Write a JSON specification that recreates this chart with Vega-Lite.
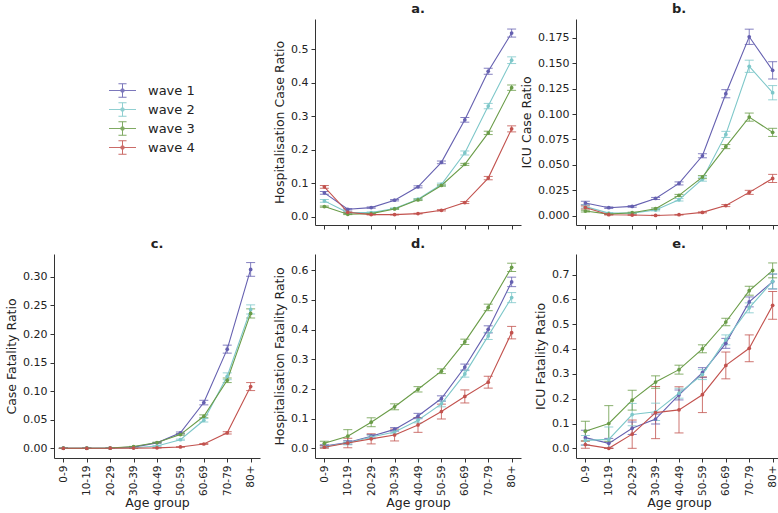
{
"$schema":"https://vega.github.io/schema/vega-lite/v6.json",
"background":"white",
"padding":{"left":5,"top":3,"right":0,"bottom":0},
"bounds":"flush",
"columns":3,
"spacing":{"row":29,"column":55},
"datasets":{
"a":[
{"g":"0-9","w":"wave 1","v":0.072,"lo":0.068,"hi":0.076},{"g":"10-19","w":"wave 1","v":0.023,"lo":0.021,"hi":0.025},{"g":"20-29","w":"wave 1","v":0.028,"lo":0.026,"hi":0.030},{"g":"30-39","w":"wave 1","v":0.050,"lo":0.048,"hi":0.052},{"g":"40-49","w":"wave 1","v":0.090,"lo":0.087,"hi":0.093},{"g":"50-59","w":"wave 1","v":0.163,"lo":0.159,"hi":0.167},{"g":"60-69","w":"wave 1","v":0.290,"lo":0.283,"hi":0.297},{"g":"70-79","w":"wave 1","v":0.435,"lo":0.426,"hi":0.444},{"g":"80+","w":"wave 1","v":0.549,"lo":0.537,"hi":0.561},
{"g":"0-9","w":"wave 2","v":0.048,"lo":0.044,"hi":0.052},{"g":"10-19","w":"wave 2","v":0.013,"lo":0.011,"hi":0.015},{"g":"20-29","w":"wave 2","v":0.013,"lo":0.011,"hi":0.015},{"g":"30-39","w":"wave 2","v":0.025,"lo":0.023,"hi":0.027},{"g":"40-49","w":"wave 2","v":0.053,"lo":0.051,"hi":0.055},{"g":"50-59","w":"wave 2","v":0.097,"lo":0.093,"hi":0.101},{"g":"60-69","w":"wave 2","v":0.191,"lo":0.185,"hi":0.197},{"g":"70-79","w":"wave 2","v":0.331,"lo":0.323,"hi":0.339},{"g":"80+","w":"wave 2","v":0.468,"lo":0.458,"hi":0.478},
{"g":"0-9","w":"wave 3","v":0.031,"lo":0.029,"hi":0.033},{"g":"10-19","w":"wave 3","v":0.008,"lo":0.007,"hi":0.009},{"g":"20-29","w":"wave 3","v":0.010,"lo":0.009,"hi":0.011},{"g":"30-39","w":"wave 3","v":0.024,"lo":0.023,"hi":0.025},{"g":"40-49","w":"wave 3","v":0.051,"lo":0.049,"hi":0.053},{"g":"50-59","w":"wave 3","v":0.094,"lo":0.092,"hi":0.096},{"g":"60-69","w":"wave 3","v":0.157,"lo":0.154,"hi":0.160},{"g":"70-79","w":"wave 3","v":0.251,"lo":0.246,"hi":0.256},{"g":"80+","w":"wave 3","v":0.386,"lo":0.378,"hi":0.394},
{"g":"0-9","w":"wave 4","v":0.090,"lo":0.086,"hi":0.094},{"g":"10-19","w":"wave 4","v":0.014,"lo":0.013,"hi":0.015},{"g":"20-29","w":"wave 4","v":0.007,"lo":0.006,"hi":0.008},{"g":"30-39","w":"wave 4","v":0.007,"lo":0.006,"hi":0.008},{"g":"40-49","w":"wave 4","v":0.010,"lo":0.009,"hi":0.011},{"g":"50-59","w":"wave 4","v":0.020,"lo":0.018,"hi":0.022},{"g":"60-69","w":"wave 4","v":0.043,"lo":0.040,"hi":0.046},{"g":"70-79","w":"wave 4","v":0.116,"lo":0.111,"hi":0.121},{"g":"80+","w":"wave 4","v":0.263,"lo":0.254,"hi":0.272}
],
"b":[
{"g":"0-9","w":"wave 1","v":0.0125,"lo":0.0107,"hi":0.0143},{"g":"10-19","w":"wave 1","v":0.0079,"lo":0.0071,"hi":0.0087},{"g":"20-29","w":"wave 1","v":0.0092,"lo":0.0084,"hi":0.0100},{"g":"30-39","w":"wave 1","v":0.0170,"lo":0.0160,"hi":0.0180},{"g":"40-49","w":"wave 1","v":0.0318,"lo":0.0303,"hi":0.0333},{"g":"50-59","w":"wave 1","v":0.0590,"lo":0.0570,"hi":0.0610},{"g":"60-69","w":"wave 1","v":0.1200,"lo":0.1160,"hi":0.1240},{"g":"70-79","w":"wave 1","v":0.1760,"lo":0.1685,"hi":0.1835},{"g":"80+","w":"wave 1","v":0.1430,"lo":0.1345,"hi":0.1515},
{"g":"0-9","w":"wave 2","v":0.0090,"lo":0.0075,"hi":0.0105},{"g":"10-19","w":"wave 2","v":0.0026,"lo":0.0021,"hi":0.0031},{"g":"20-29","w":"wave 2","v":0.0026,"lo":0.0021,"hi":0.0031},{"g":"30-39","w":"wave 2","v":0.0056,"lo":0.0048,"hi":0.0064},{"g":"40-49","w":"wave 2","v":0.0157,"lo":0.0145,"hi":0.0169},{"g":"50-59","w":"wave 2","v":0.0360,"lo":0.0340,"hi":0.0380},{"g":"60-69","w":"wave 2","v":0.0800,"lo":0.0770,"hi":0.0830},{"g":"70-79","w":"wave 2","v":0.1470,"lo":0.1410,"hi":0.1530},{"g":"80+","w":"wave 2","v":0.1210,"lo":0.1140,"hi":0.1280},
{"g":"0-9","w":"wave 3","v":0.0046,"lo":0.0038,"hi":0.0054},{"g":"10-19","w":"wave 3","v":0.0016,"lo":0.0012,"hi":0.0020},{"g":"20-29","w":"wave 3","v":0.0030,"lo":0.0025,"hi":0.0035},{"g":"30-39","w":"wave 3","v":0.0069,"lo":0.0061,"hi":0.0077},{"g":"40-49","w":"wave 3","v":0.0200,"lo":0.0190,"hi":0.0210},{"g":"50-59","w":"wave 3","v":0.0380,"lo":0.0365,"hi":0.0395},{"g":"60-69","w":"wave 3","v":0.0680,"lo":0.0660,"hi":0.0700},{"g":"70-79","w":"wave 3","v":0.0970,"lo":0.0930,"hi":0.1010},{"g":"80+","w":"wave 3","v":0.0820,"lo":0.0780,"hi":0.0860},
{"g":"0-9","w":"wave 4","v":0.0082,"lo":0.0067,"hi":0.0097},{"g":"10-19","w":"wave 4","v":0.0010,"lo":0.0007,"hi":0.0013},{"g":"20-29","w":"wave 4","v":0.0007,"lo":0.0005,"hi":0.0009},{"g":"30-39","w":"wave 4","v":0.0003,"lo":0.0001,"hi":0.0005},{"g":"40-49","w":"wave 4","v":0.0010,"lo":0.0007,"hi":0.0013},{"g":"50-59","w":"wave 4","v":0.0033,"lo":0.0028,"hi":0.0038},{"g":"60-69","w":"wave 4","v":0.0100,"lo":0.0090,"hi":0.0110},{"g":"70-79","w":"wave 4","v":0.0230,"lo":0.0210,"hi":0.0250},{"g":"80+","w":"wave 4","v":0.0367,"lo":0.0327,"hi":0.0407}
],
"c":[
{"g":"0-9","w":"wave 1","v":0.0001,"lo":0.0000,"hi":0.0002},{"g":"10-19","w":"wave 1","v":0.0001,"lo":0.0000,"hi":0.0002},{"g":"20-29","w":"wave 1","v":0.0005,"lo":0.0003,"hi":0.0007},{"g":"30-39","w":"wave 1","v":0.0020,"lo":0.0017,"hi":0.0023},{"g":"40-49","w":"wave 1","v":0.0095,"lo":0.0087,"hi":0.0103},{"g":"50-59","w":"wave 1","v":0.0270,"lo":0.0255,"hi":0.0285},{"g":"60-69","w":"wave 1","v":0.0800,"lo":0.0760,"hi":0.0840},{"g":"70-79","w":"wave 1","v":0.1735,"lo":0.1665,"hi":0.1805},{"g":"80+","w":"wave 1","v":0.3130,"lo":0.3010,"hi":0.3250},
{"g":"0-9","w":"wave 2","v":0.0001,"lo":0.0000,"hi":0.0002},{"g":"10-19","w":"wave 2","v":0.0001,"lo":0.0000,"hi":0.0002},{"g":"20-29","w":"wave 2","v":0.0003,"lo":0.0002,"hi":0.0004},{"g":"30-39","w":"wave 2","v":0.0010,"lo":0.0008,"hi":0.0012},{"g":"40-49","w":"wave 2","v":0.0040,"lo":0.0035,"hi":0.0045},{"g":"50-59","w":"wave 2","v":0.0150,"lo":0.0140,"hi":0.0160},{"g":"60-69","w":"wave 2","v":0.0490,"lo":0.0460,"hi":0.0520},{"g":"70-79","w":"wave 2","v":0.1260,"lo":0.1200,"hi":0.1320},{"g":"80+","w":"wave 2","v":0.2430,"lo":0.2350,"hi":0.2510},
{"g":"0-9","w":"wave 3","v":0.0001,"lo":0.0000,"hi":0.0002},{"g":"10-19","w":"wave 3","v":0.0001,"lo":0.0000,"hi":0.0002},{"g":"20-29","w":"wave 3","v":0.0005,"lo":0.0003,"hi":0.0007},{"g":"30-39","w":"wave 3","v":0.0030,"lo":0.0027,"hi":0.0033},{"g":"40-49","w":"wave 3","v":0.0100,"lo":0.0094,"hi":0.0106},{"g":"50-59","w":"wave 3","v":0.0240,"lo":0.0228,"hi":0.0252},{"g":"60-69","w":"wave 3","v":0.0560,"lo":0.0535,"hi":0.0585},{"g":"70-79","w":"wave 3","v":0.1190,"lo":0.1150,"hi":0.1230},{"g":"80+","w":"wave 3","v":0.2360,"lo":0.2280,"hi":0.2440},
{"g":"0-9","w":"wave 4","v":0.0000,"lo":0.0000,"hi":0.0001},{"g":"10-19","w":"wave 4","v":0.0000,"lo":0.0000,"hi":0.0001},{"g":"20-29","w":"wave 4","v":0.0001,"lo":0.0000,"hi":0.0002},{"g":"30-39","w":"wave 4","v":0.0003,"lo":0.0002,"hi":0.0004},{"g":"40-49","w":"wave 4","v":0.0008,"lo":0.0006,"hi":0.0010},{"g":"50-59","w":"wave 4","v":0.0023,"lo":0.0019,"hi":0.0027},{"g":"60-69","w":"wave 4","v":0.0075,"lo":0.0067,"hi":0.0083},{"g":"70-79","w":"wave 4","v":0.0270,"lo":0.0250,"hi":0.0290},{"g":"80+","w":"wave 4","v":0.1080,"lo":0.1010,"hi":0.1150}
],
"d":[
{"g":"0-9","w":"wave 1","v":0.008,"lo":0.004,"hi":0.012},{"g":"10-19","w":"wave 1","v":0.020,"lo":0.014,"hi":0.026},{"g":"20-29","w":"wave 1","v":0.041,"lo":0.035,"hi":0.047},{"g":"30-39","w":"wave 1","v":0.064,"lo":0.058,"hi":0.070},{"g":"40-49","w":"wave 1","v":0.109,"lo":0.100,"hi":0.118},{"g":"50-59","w":"wave 1","v":0.168,"lo":0.159,"hi":0.177},{"g":"60-69","w":"wave 1","v":0.274,"lo":0.264,"hi":0.284},{"g":"70-79","w":"wave 1","v":0.401,"lo":0.389,"hi":0.413},{"g":"80+","w":"wave 1","v":0.561,"lo":0.545,"hi":0.577},
{"g":"0-9","w":"wave 2","v":0.006,"lo":0.002,"hi":0.010},{"g":"10-19","w":"wave 2","v":0.018,"lo":0.012,"hi":0.024},{"g":"20-29","w":"wave 2","v":0.038,"lo":0.032,"hi":0.044},{"g":"30-39","w":"wave 2","v":0.055,"lo":0.049,"hi":0.061},{"g":"40-49","w":"wave 2","v":0.095,"lo":0.086,"hi":0.104},{"g":"50-59","w":"wave 2","v":0.150,"lo":0.140,"hi":0.160},{"g":"60-69","w":"wave 2","v":0.251,"lo":0.240,"hi":0.262},{"g":"70-79","w":"wave 2","v":0.379,"lo":0.367,"hi":0.391},{"g":"80+","w":"wave 2","v":0.508,"lo":0.491,"hi":0.525},
{"g":"0-9","w":"wave 3","v":0.017,"lo":0.010,"hi":0.024},{"g":"10-19","w":"wave 3","v":0.041,"lo":0.019,"hi":0.063},{"g":"20-29","w":"wave 3","v":0.088,"lo":0.073,"hi":0.103},{"g":"30-39","w":"wave 3","v":0.140,"lo":0.130,"hi":0.150},{"g":"40-49","w":"wave 3","v":0.199,"lo":0.190,"hi":0.208},{"g":"50-59","w":"wave 3","v":0.260,"lo":0.252,"hi":0.268},{"g":"60-69","w":"wave 3","v":0.359,"lo":0.350,"hi":0.368},{"g":"70-79","w":"wave 3","v":0.475,"lo":0.464,"hi":0.486},{"g":"80+","w":"wave 3","v":0.610,"lo":0.596,"hi":0.624},
{"g":"0-9","w":"wave 4","v":0.004,"lo":0.000,"hi":0.009},{"g":"10-19","w":"wave 4","v":0.018,"lo":0.002,"hi":0.034},{"g":"20-29","w":"wave 4","v":0.032,"lo":0.015,"hi":0.049},{"g":"30-39","w":"wave 4","v":0.045,"lo":0.025,"hi":0.065},{"g":"40-49","w":"wave 4","v":0.079,"lo":0.054,"hi":0.104},{"g":"50-59","w":"wave 4","v":0.124,"lo":0.099,"hi":0.149},{"g":"60-69","w":"wave 4","v":0.175,"lo":0.153,"hi":0.197},{"g":"70-79","w":"wave 4","v":0.223,"lo":0.203,"hi":0.243},{"g":"80+","w":"wave 4","v":0.390,"lo":0.369,"hi":0.411}
],
"e":[
{"g":"0-9","w":"wave 1","v":0.043,"lo":0.013,"hi":0.073},{"g":"10-19","w":"wave 1","v":0.020,"lo":0.000,"hi":0.040},{"g":"20-29","w":"wave 1","v":0.081,"lo":0.056,"hi":0.106},{"g":"30-39","w":"wave 1","v":0.118,"lo":0.098,"hi":0.138},{"g":"40-49","w":"wave 1","v":0.215,"lo":0.195,"hi":0.235},{"g":"50-59","w":"wave 1","v":0.305,"lo":0.285,"hi":0.325},{"g":"60-69","w":"wave 1","v":0.423,"lo":0.403,"hi":0.443},{"g":"70-79","w":"wave 1","v":0.590,"lo":0.570,"hi":0.610},{"g":"80+","w":"wave 1","v":0.672,"lo":0.642,"hi":0.702},
{"g":"0-9","w":"wave 2","v":0.032,"lo":0.012,"hi":0.052},{"g":"10-19","w":"wave 2","v":0.036,"lo":0.000,"hi":0.086},{"g":"20-29","w":"wave 2","v":0.136,"lo":0.091,"hi":0.181},{"g":"30-39","w":"wave 2","v":0.147,"lo":0.112,"hi":0.182},{"g":"40-49","w":"wave 2","v":0.222,"lo":0.202,"hi":0.242},{"g":"50-59","w":"wave 2","v":0.297,"lo":0.277,"hi":0.317},{"g":"60-69","w":"wave 2","v":0.437,"lo":0.417,"hi":0.457},{"g":"70-79","w":"wave 2","v":0.566,"lo":0.546,"hi":0.586},{"g":"80+","w":"wave 2","v":0.673,"lo":0.643,"hi":0.703},
{"g":"0-9","w":"wave 3","v":0.069,"lo":0.029,"hi":0.109},{"g":"10-19","w":"wave 3","v":0.100,"lo":0.028,"hi":0.172},{"g":"20-29","w":"wave 3","v":0.194,"lo":0.154,"hi":0.234},{"g":"30-39","w":"wave 3","v":0.267,"lo":0.242,"hi":0.292},{"g":"40-49","w":"wave 3","v":0.317,"lo":0.299,"hi":0.335},{"g":"50-59","w":"wave 3","v":0.401,"lo":0.385,"hi":0.417},{"g":"60-69","w":"wave 3","v":0.509,"lo":0.494,"hi":0.524},{"g":"70-79","w":"wave 3","v":0.635,"lo":0.617,"hi":0.653},{"g":"80+","w":"wave 3","v":0.717,"lo":0.687,"hi":0.747},
{"g":"0-9","w":"wave 4","v":0.015,"lo":0.000,"hi":0.030},{"g":"10-19","w":"wave 4","v":0.000,"lo":0.000,"hi":0.000},{"g":"20-29","w":"wave 4","v":0.057,"lo":0.000,"hi":0.114},{"g":"30-39","w":"wave 4","v":0.144,"lo":0.039,"hi":0.249},{"g":"40-49","w":"wave 4","v":0.155,"lo":0.062,"hi":0.248},{"g":"50-59","w":"wave 4","v":0.216,"lo":0.144,"hi":0.288},{"g":"60-69","w":"wave 4","v":0.334,"lo":0.280,"hi":0.388},{"g":"70-79","w":"wave 4","v":0.403,"lo":0.349,"hi":0.457},{"g":"80+","w":"wave 4","v":0.576,"lo":0.520,"hi":0.632}
]
},
"concat":[
{"data":{"values":[{"k":1}]},"mark":{"type":"point","opacity":0},"width":206,"height":206},
{"data":{"name":"a"},"width":206,"height":206,"title":"a.",
 "encoding":{
  "x":{"field":"g","type":"ordinal","scale":{"type":"point","padding":0.4,"domain":["0-9","10-19","20-29","30-39","40-49","50-59","60-69","70-79","80+"]},"axis":{"labels":false,"title":null}},
  "color":{"field":"w","type":"nominal","scale":{"domain":["wave 1","wave 2","wave 3","wave 4"],"range":["#6560b0","#7dc7c9","#6a9c48","#c2524e"]},
   "legend":{"orient":"none","legendX":59,"legendY":62,"title":null,"symbolType":"M-1.5,0H1.5M0,-0.75V0.75M-0.45,-0.75H0.45M-0.45,0.75H0.45M-0.2,0A0.2,0.2 0 1,1 0.2,0A0.2,0.2 0 1,1 -0.2,0Z","symbolSize":324,"symbolStrokeWidth":1,"labelFontSize":13,"labelOffset":16,"rowPadding":0,"labelFont":"DejaVu Sans","labelColor":"#222",
    "encode":{"symbols":{"update":{"fill":{"scale":"color","field":"value"},"stroke":{"scale":"color","field":"value"},"opacity":{"value":0.85}}}}}}
 },
 "layer":[
  {"mark":{"type":"rule","strokeWidth":1,"opacity":0.8},"encoding":{"y":{"field":"lo","type":"quantitative","title":"Hospitalisation Case Ratio","scale":{"domain":[-0.024,0.591],"nice":false,"zero":false},"axis":{"values":[0,0.1,0.2,0.3,0.4,0.5],"format":".1f"}},"y2":{"field":"hi"}}},
  {"mark":{"type":"tick","orient":"horizontal","size":9,"thickness":1,"opacity":0.8},"encoding":{"y":{"field":"lo","type":"quantitative","title":"Hospitalisation Case Ratio","axis":{"values":[0,0.1,0.2,0.3,0.4,0.5],"format":".1f"}}}},
  {"mark":{"type":"tick","orient":"horizontal","size":9,"thickness":1,"opacity":0.8},"encoding":{"y":{"field":"hi","type":"quantitative","title":"Hospitalisation Case Ratio","axis":{"values":[0,0.1,0.2,0.3,0.4,0.5],"format":".1f"}}}},
  {"mark":{"type":"line","strokeWidth":1.1},"encoding":{"y":{"field":"v","type":"quantitative","title":"Hospitalisation Case Ratio","axis":{"values":[0,0.1,0.2,0.3,0.4,0.5],"format":".1f"}}}},
  {"mark":{"type":"point","filled":true,"size":14,"opacity":1},"encoding":{"y":{"field":"v","type":"quantitative","title":"Hospitalisation Case Ratio","axis":{"values":[0,0.1,0.2,0.3,0.4,0.5],"format":".1f"}}}}
 ]},
{"data":{"name":"b"},"width":206,"height":206,"title":"b.",
 "encoding":{
  "x":{"field":"g","type":"ordinal","scale":{"type":"point","padding":0.4,"domain":["0-9","10-19","20-29","30-39","40-49","50-59","60-69","70-79","80+"]},"axis":{"labels":false,"title":null}},
  "color":{"field":"w","type":"nominal","scale":{"domain":["wave 1","wave 2","wave 3","wave 4"],"range":["#6560b0","#7dc7c9","#6a9c48","#c2524e"]},"legend":null}
 },
 "layer":[
  {"mark":{"type":"rule","strokeWidth":1,"opacity":0.8},"encoding":{"y":{"field":"lo","type":"quantitative","title":"ICU Case Ratio","scale":{"domain":[-0.0091,0.1935],"nice":false,"zero":false},"axis":{"values":[0,0.025,0.05,0.075,0.1,0.125,0.15,0.175],"format":".3f","labelOverlap":false}},"y2":{"field":"hi"}}},
  {"mark":{"type":"tick","orient":"horizontal","size":9,"thickness":1,"opacity":0.8},"encoding":{"y":{"field":"lo","type":"quantitative","title":"ICU Case Ratio","axis":{"values":[0,0.025,0.05,0.075,0.1,0.125,0.15,0.175],"format":".3f","labelOverlap":false}}}},
  {"mark":{"type":"tick","orient":"horizontal","size":9,"thickness":1,"opacity":0.8},"encoding":{"y":{"field":"hi","type":"quantitative","title":"ICU Case Ratio","axis":{"values":[0,0.025,0.05,0.075,0.1,0.125,0.15,0.175],"format":".3f","labelOverlap":false}}}},
  {"mark":{"type":"line","strokeWidth":1.1},"encoding":{"y":{"field":"v","type":"quantitative","title":"ICU Case Ratio","axis":{"values":[0,0.025,0.05,0.075,0.1,0.125,0.15,0.175],"format":".3f","labelOverlap":false}}}},
  {"mark":{"type":"point","filled":true,"size":14,"opacity":1},"encoding":{"y":{"field":"v","type":"quantitative","title":"ICU Case Ratio","axis":{"values":[0,0.025,0.05,0.075,0.1,0.125,0.15,0.175],"format":".3f","labelOverlap":false}}}}
 ]},
{"data":{"name":"c"},"width":206,"height":204,"title":"c.",
 "encoding":{
  "x":{"field":"g","type":"ordinal","scale":{"type":"point","padding":0.4,"domain":["0-9","10-19","20-29","30-39","40-49","50-59","60-69","70-79","80+"]},"axis":{"labelAngle":-90,"title":"Age group","labelFontSize":10.5,"titlePadding":1}},
  "color":{"field":"w","type":"nominal","scale":{"domain":["wave 1","wave 2","wave 3","wave 4"],"range":["#6560b0","#7dc7c9","#6a9c48","#c2524e"]},"legend":null}
 },
 "layer":[
  {"mark":{"type":"rule","strokeWidth":1,"opacity":0.8},"encoding":{"y":{"field":"lo","type":"quantitative","title":"Case Fatality Ratio","scale":{"domain":[-0.017,0.340],"nice":false,"zero":false},"axis":{"values":[0,0.05,0.1,0.15,0.2,0.25,0.3],"format":".2f","labelOverlap":false}},"y2":{"field":"hi"}}},
  {"mark":{"type":"tick","orient":"horizontal","size":9,"thickness":1,"opacity":0.8},"encoding":{"y":{"field":"lo","type":"quantitative","title":"Case Fatality Ratio","axis":{"values":[0,0.05,0.1,0.15,0.2,0.25,0.3],"format":".2f","labelOverlap":false}}}},
  {"mark":{"type":"tick","orient":"horizontal","size":9,"thickness":1,"opacity":0.8},"encoding":{"y":{"field":"hi","type":"quantitative","title":"Case Fatality Ratio","axis":{"values":[0,0.05,0.1,0.15,0.2,0.25,0.3],"format":".2f","labelOverlap":false}}}},
  {"mark":{"type":"line","strokeWidth":1.1},"encoding":{"y":{"field":"v","type":"quantitative","title":"Case Fatality Ratio","axis":{"values":[0,0.05,0.1,0.15,0.2,0.25,0.3],"format":".2f","labelOverlap":false}}}},
  {"mark":{"type":"point","filled":true,"size":14,"opacity":1},"encoding":{"y":{"field":"v","type":"quantitative","title":"Case Fatality Ratio","axis":{"values":[0,0.05,0.1,0.15,0.2,0.25,0.3],"format":".2f","labelOverlap":false}}}}
 ]},
{"data":{"name":"d"},"width":206,"height":204,"title":"d.",
 "encoding":{
  "x":{"field":"g","type":"ordinal","scale":{"type":"point","padding":0.4,"domain":["0-9","10-19","20-29","30-39","40-49","50-59","60-69","70-79","80+"]},"axis":{"labelAngle":-90,"title":"Age group","labelFontSize":10.5,"titlePadding":1}},
  "color":{"field":"w","type":"nominal","scale":{"domain":["wave 1","wave 2","wave 3","wave 4"],"range":["#6560b0","#7dc7c9","#6a9c48","#c2524e"]},"legend":null}
 },
 "layer":[
  {"mark":{"type":"rule","strokeWidth":1,"opacity":0.8},"encoding":{"y":{"field":"lo","type":"quantitative","title":"Hospitalisation Fatality Ratio","scale":{"domain":[-0.0325,0.655],"nice":false,"zero":false},"axis":{"values":[0,0.1,0.2,0.3,0.4,0.5,0.6],"format":".1f","labelOverlap":false}},"y2":{"field":"hi"}}},
  {"mark":{"type":"tick","orient":"horizontal","size":9,"thickness":1,"opacity":0.8},"encoding":{"y":{"field":"lo","type":"quantitative","title":"Hospitalisation Fatality Ratio","axis":{"values":[0,0.1,0.2,0.3,0.4,0.5,0.6],"format":".1f","labelOverlap":false}}}},
  {"mark":{"type":"tick","orient":"horizontal","size":9,"thickness":1,"opacity":0.8},"encoding":{"y":{"field":"hi","type":"quantitative","title":"Hospitalisation Fatality Ratio","axis":{"values":[0,0.1,0.2,0.3,0.4,0.5,0.6],"format":".1f","labelOverlap":false}}}},
  {"mark":{"type":"line","strokeWidth":1.1},"encoding":{"y":{"field":"v","type":"quantitative","title":"Hospitalisation Fatality Ratio","axis":{"values":[0,0.1,0.2,0.3,0.4,0.5,0.6],"format":".1f","labelOverlap":false}}}},
  {"mark":{"type":"point","filled":true,"size":14,"opacity":1},"encoding":{"y":{"field":"v","type":"quantitative","title":"Hospitalisation Fatality Ratio","axis":{"values":[0,0.1,0.2,0.3,0.4,0.5,0.6],"format":".1f","labelOverlap":false}}}}
 ]},
{"data":{"name":"e"},"width":206,"height":204,"title":"e.",
 "encoding":{
  "x":{"field":"g","type":"ordinal","scale":{"type":"point","padding":0.4,"domain":["0-9","10-19","20-29","30-39","40-49","50-59","60-69","70-79","80+"]},"axis":{"labelAngle":-90,"title":"Age group","labelFontSize":10.5,"titlePadding":1}},
  "color":{"field":"w","type":"nominal","scale":{"domain":["wave 1","wave 2","wave 3","wave 4"],"range":["#6560b0","#7dc7c9","#6a9c48","#c2524e"]},"legend":null}
 },
 "layer":[
  {"mark":{"type":"rule","strokeWidth":1,"opacity":0.8},"encoding":{"y":{"field":"lo","type":"quantitative","title":"ICU Fatality Ratio","scale":{"domain":[-0.039,0.783],"nice":false,"zero":false},"axis":{"values":[0,0.1,0.2,0.3,0.4,0.5,0.6,0.7],"format":".1f","labelOverlap":false}},"y2":{"field":"hi"}}},
  {"mark":{"type":"tick","orient":"horizontal","size":9,"thickness":1,"opacity":0.8},"encoding":{"y":{"field":"lo","type":"quantitative","title":"ICU Fatality Ratio","axis":{"values":[0,0.1,0.2,0.3,0.4,0.5,0.6,0.7],"format":".1f","labelOverlap":false}}}},
  {"mark":{"type":"tick","orient":"horizontal","size":9,"thickness":1,"opacity":0.8},"encoding":{"y":{"field":"hi","type":"quantitative","title":"ICU Fatality Ratio","axis":{"values":[0,0.1,0.2,0.3,0.4,0.5,0.6,0.7],"format":".1f","labelOverlap":false}}}},
  {"mark":{"type":"line","strokeWidth":1.1},"encoding":{"y":{"field":"v","type":"quantitative","title":"ICU Fatality Ratio","axis":{"values":[0,0.1,0.2,0.3,0.4,0.5,0.6,0.7],"format":".1f","labelOverlap":false}}}},
  {"mark":{"type":"point","filled":true,"size":14,"opacity":1},"encoding":{"y":{"field":"v","type":"quantitative","title":"ICU Fatality Ratio","axis":{"values":[0,0.1,0.2,0.3,0.4,0.5,0.6,0.7],"format":".1f","labelOverlap":false}}}}
 ]}
],
"config":{
 "view":{"stroke":null},
 "font":"DejaVu Sans",
 "axis":{"grid":false,"domainColor":"#333","tickColor":"#333","labelColor":"#222","titleColor":"#222","labelFont":"DejaVu Sans","titleFont":"DejaVu Sans","labelFontSize":11,"titleFontSize":12.5,"titleFontWeight":"normal","tickSize":4,"labelPadding":3},
 "title":{"font":"DejaVu Sans","fontSize":13,"fontWeight":"bold","color":"#222","offset":3,"anchor":"middle"}
}
}
